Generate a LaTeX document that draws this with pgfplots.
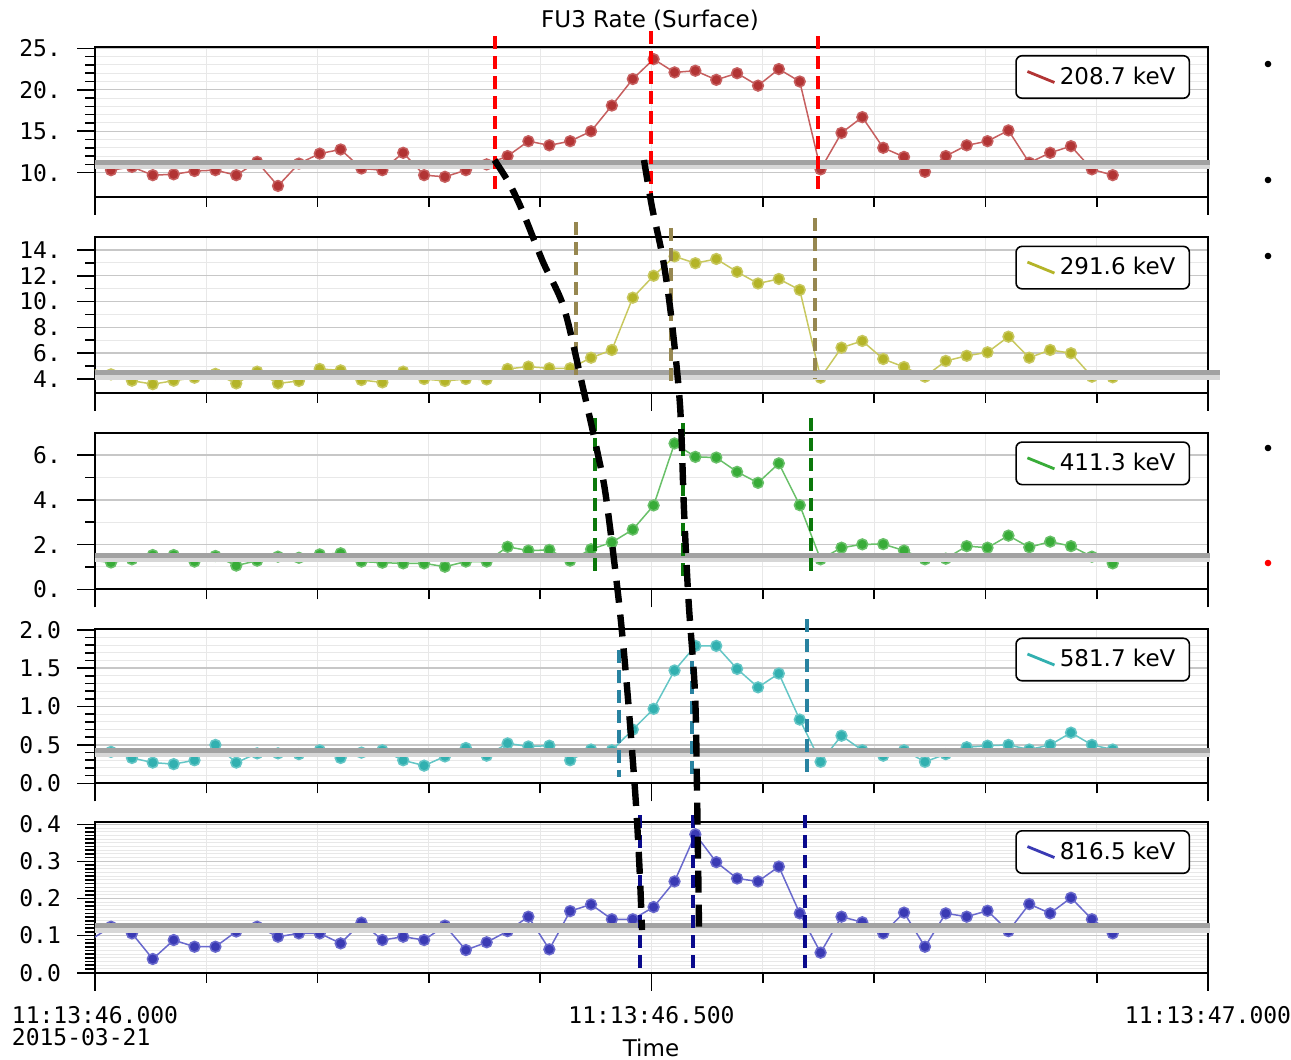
\documentclass[border=0pt]{standalone}
\usepackage{fontspec}
\setmainfont{DejaVu Sans}
\newfontfamily\tickfont{DejaVu Sans Mono}
\usepackage{pgfplots}
\usepackage{pgfplotstable}
\pgfplotsset{compat=1.18}

\definecolor{redM}{RGB}{178,52,52}
\definecolor{redL}{RGB}{198,95,95}
\definecolor{yelM}{RGB}{180,180,40}
\definecolor{yelL}{RGB}{200,200,95}
\definecolor{grnM}{RGB}{56,172,56}
\definecolor{grnL}{RGB}{105,192,105}
\definecolor{cyaM}{RGB}{50,176,176}
\definecolor{cyaL}{RGB}{100,198,198}
\definecolor{bluM}{RGB}{58,58,180}
\definecolor{bluL}{RGB}{105,105,205}
\definecolor{dRed}{RGB}{255,0,0}
\definecolor{dOli}{RGB}{150,135,80}
\definecolor{dGrn}{RGB}{10,120,10}
\definecolor{dTea}{RGB}{40,130,160}
\definecolor{dNav}{RGB}{10,10,140}
\definecolor{baseC}{RGB}{162,162,162}
\definecolor{baseS}{RGB}{215,215,215}

% time offset from 11:13:46.000 (s); r: 208.7 keV, y: 291.6 keV, g: 411.3 keV, c: 581.7 keV, b: 816.5 keV
\pgfplotstableread{
t       r     y     g     c     b
-0.0044 11.3  4.80  1.31  0.35  0.088
0.0144  10.3  4.36  1.20  0.41  0.124
0.0332  10.7  3.87  1.34  0.33  0.106
0.0519  9.7   3.60  1.53  0.27  0.037
0.0707  9.8   3.87  1.53  0.25  0.088
0.0894  10.2  4.10  1.24  0.30  0.070
0.1082  10.3  4.40  1.49  0.50  0.070
0.1269  9.7   3.66  1.06  0.27  0.111
0.1457  11.3  4.57  1.28  0.39  0.124
0.1644  8.4   3.66  1.46  0.39  0.097
0.1832  11.1  3.85  1.41  0.38  0.106
0.2019  12.3  4.78  1.56  0.43  0.106
0.2207  12.8  4.67  1.61  0.33  0.079
0.2394  10.5  3.92  1.24  0.40  0.135
0.2582  10.3  3.74  1.19  0.43  0.088
0.2769  12.4  4.57  1.16  0.30  0.097
0.2957  9.7   4.00  1.16  0.23  0.088
0.3144  9.5   3.85  1.01  0.35  0.127
0.3332  10.3  4.00  1.24  0.46  0.061
0.3519  11.0  3.97  1.24  0.36  0.082
0.3707  12.0  4.78  1.90  0.52  0.112
0.3894  13.8  4.96  1.73  0.48  0.151
0.4082  13.3  4.83  1.76  0.49  0.063
0.4269  13.8  4.83  1.28  0.30  0.166
0.4457  15.0  5.65  1.79  0.44  0.184
0.4644  18.1  6.25  2.10  0.43  0.144
0.4832  21.3  10.3  2.67  0.70  0.144
0.5019  23.7  12.0  3.75  0.97  0.177
0.5207  22.1  13.5  6.52  1.47  0.246
0.5394  22.3  12.97 5.92  1.79  0.373
0.5582  21.2  13.3  5.89  1.79  0.298
0.5769  22.0  12.3  5.25  1.49  0.254
0.5957  20.5  11.4  4.76  1.25  0.246
0.6144  22.5  11.75 5.63  1.43  0.286
0.6332  21.0  10.9  3.76  0.83  0.160
0.6519  10.4  4.10  1.34  0.28  0.054
0.6707  14.8  6.43  1.86  0.62  0.151
0.6894  16.7  6.95  2.01  0.43  0.136
0.7082  13.0  5.55  2.02  0.36  0.106
0.7269  11.9  4.93  1.73  0.43  0.162
0.7457  10.1  4.18  1.34  0.28  0.070
0.7644  12.0  5.40  1.37  0.38  0.160
0.7832  13.3  5.80  1.93  0.47  0.151
0.8019  13.8  6.07  1.86  0.49  0.167
0.8207  15.1  7.28  2.40  0.50  0.112
0.8394  11.2  5.65  1.88  0.44  0.185
0.8582  12.4  6.25  2.13  0.50  0.160
0.8769  13.2  6.00  1.93  0.66  0.202
0.8957  10.4  4.18  1.46  0.50  0.144
0.9144  9.7   4.13  1.16  0.44  0.106
}\data

\tikzset{
 vd/.style={dash pattern=on 6.5pt off 3.5pt, line width=2pt},
 bsh/.style={line width=3pt, color=baseS, transform canvas={yshift=-2pt}},
 bln/.style={line width=2.6pt, color=baseC},
}
\pgfplotsset{
 panel/.style={
  anchor=north west, scale only axis, width=556.5pt,
  xmin=0, xmax=1,
  xtick={0,0.5,1}, xticklabels={},
  minor xtick={0.1,0.2,0.3,0.4,0.5,0.6,0.7,0.8,0.9},
  xminorgrids=true, yminorgrids=true, ymajorgrids=true,
  tick align=outside, tick pos=left,
  major tick length=9pt, minor tick length=5pt,
  tick style={black, line width=0.8pt},
  axis line style={line width=1pt},
  major grid style={line width=0.7pt, color=black!22},
  minor grid style={line width=0.5pt, color=black!9},
  ticklabel style={font=\tickfont\fontsize{11.5}{11}\selectfont},
  yticklabel style={xshift=-4.5pt},
  xticklabel style={yshift=-4.5pt},
  clip mode=individual,
  legend style={at={(0.984,0.945)}, anchor=north east, draw=black, line width=0.8pt,
    rounded corners=3pt, fill=white, font=\fontsize{11.5}{13}\selectfont,
    inner xsep=5pt, inner ysep=3.5pt},
  legend cell align=left,
 },
 ser/.style 2 args={color=#2, line width=0.75pt, mark=*, mark size=2.7pt,
   mark options={draw=none, fill=#1}},
 legimg/.style 2 args={legend image code/.code={
   \draw[#1, line width=1.4pt, sharp corners] (0pt,2.75pt) -- (13.5pt,-2.75pt);}},
}

\begin{document}
\begin{tikzpicture}
\path[use as bounding box] (0,0) rectangle (645.5pt,-530pt);

% ---- panel 1 ----
\begin{axis}[panel, at={(47.5pt,-23.35pt)}, height=75pt,
  ymin=7.1, ymax=25.2, ytick={10,15,20,25}, yticklabels={10.,15.,20.,25.},
  minor y tick num=4, legimg={redM}{redL}]
\addplot[ser={redM}{redL}] table[x=t,y=r]{\data};
\addlegendentry{208.7 keV}
\draw[bsh] (axis cs:0,11.25) -- (axis cs:1.002,11.25);
\draw[bln] (axis cs:0,11.25) -- (axis cs:1.002,11.25);
\draw[vd, dRed] (axis cs:0.359,26.49) -- (axis cs:0.359,7.31);
\draw[vd, dRed] (axis cs:0.4995,27.1) -- (axis cs:0.4995,7.31);
\draw[vd, dRed] (axis cs:0.6496,26.49) -- (axis cs:0.6496,7.31);
\end{axis}

% ---- panel 2 ----
\begin{axis}[panel, at={(47.5pt,-118.5pt)}, height=77.85pt,
  ymin=2.94, ymax=15.0, ytick={4,6,8,10,12,14}, yticklabels={4.,6.,8.,10.,12.,14.},
  minor y tick num=1, legimg={yelM}{yelL}]
\addplot[ser={yelM}{yelL}] table[x=t,y=y]{\data};
\addlegendentry{291.6 keV}
\draw[bsh] (axis cs:0,4.49) -- (axis cs:1.011,4.49);
\draw[bln] (axis cs:0,4.49) -- (axis cs:1.011,4.49);
\draw[vd, dOli] (axis cs:0.432,16.16) -- (axis cs:0.432,4.3);
\draw[vd, dOli] (axis cs:0.5175,15.7) -- (axis cs:0.5175,3.4);
\draw[vd, dOli] (axis cs:0.647,16.47) -- (axis cs:0.647,4.07);
\end{axis}

% ---- panel 3 ----
\begin{axis}[panel, at={(47.5pt,-216.35pt)}, height=78.3pt,
  ymin=0, ymax=7, ytick={0,2,4,6}, yticklabels={0.,2.,4.,6.},
  minor y tick num=1, legimg={grnM}{grnL}]
\addplot[ser={grnM}{grnL}] table[x=t,y=g]{\data};
\addlegendentry{411.3 keV}
\draw[bsh] (axis cs:0,1.52) -- (axis cs:1.002,1.52);
\draw[bln] (axis cs:0,1.52) -- (axis cs:1.002,1.52);
\draw[vd, dGrn] (axis cs:0.449,7.66) -- (axis cs:0.449,0.55);
\draw[vd, dGrn] (axis cs:0.528,7.43) -- (axis cs:0.528,0.34);
\draw[vd, dGrn] (axis cs:0.6436,7.66) -- (axis cs:0.6436,0.55);
\end{axis}

% ---- panel 4 ----
\begin{axis}[panel, at={(47.5pt,-314.5pt)}, height=77.15pt,
  ymin=0, ymax=2.01, ytick={0,0.5,1,1.5,2}, yticklabels={0.0,0.5,1.0,1.5,2.0},
  minor y tick num=4, legimg={cyaM}{cyaL}]
\addplot[ser={cyaM}{cyaL}] table[x=t,y=c]{\data};
\addlegendentry{581.7 keV}
\draw[bsh] (axis cs:0,0.43) -- (axis cs:1.002,0.43);
\draw[bln] (axis cs:0,0.43) -- (axis cs:1.002,0.43);
\draw[vd, dTea] (axis cs:0.471,1.74) -- (axis cs:0.471,0.087);
\draw[vd, dTea] (axis cs:0.536,1.85) -- (axis cs:0.536,0.087);
\draw[vd, dTea] (axis cs:0.640,2.136) -- (axis cs:0.640,0.087);
\end{axis}

% ---- panel 5 ----
\begin{axis}[panel, at={(47.5pt,-410.85pt)}, height=75.5pt,
  ymin=0, ymax=0.407, ytick={0,0.1,0.2,0.3,0.4}, yticklabels={0.0,0.1,0.2,0.3,0.4},
  minor y tick num=9, legimg={bluM}{bluL},
  xticklabels={{11:13:46.000\\2015-03-21},{11:13:46.500},{11:13:47.000}},
  xticklabel style={align=left}]
\addplot[ser={bluM}{bluL}] table[x=t,y=b]{\data};
\addlegendentry{816.5 keV}
\draw[bsh] (axis cs:0,0.127) -- (axis cs:1.002,0.127);
\draw[bln] (axis cs:0,0.127) -- (axis cs:1.002,0.127);
\draw[vd, dNav] (axis cs:0.4894,0.425) -- (axis cs:0.4894,0);
\draw[vd, dNav] (axis cs:0.537,0.425) -- (axis cs:0.537,0);
\draw[vd, dNav] (axis cs:0.638,0.425) -- (axis cs:0.638,0);
\end{axis}

% ---- annotations (pixel units) ----
\begin{scope}[x=0.5pt, y=-0.5pt]
\node[font=\fontsize{11.5}{13}\selectfont] at (650,20) {FU3 Rate (Surface)};
\node[font=\fontsize{11.5}{13}\selectfont] at (651,1048) {Time};
\draw[black, line width=3.2pt, dash pattern=on 11pt off 6pt] plot[smooth, tension=0.5] coordinates {
 (494.5,160) (509,183) (522,210) (543,262) (564,308) (583,388) (597.6,453) (606,497)
 (618.7,600) (627,687) (635.5,797) (639.7,872) (642,930)};
\draw[black, line width=3.2pt, dash pattern=on 11pt off 6pt] plot[smooth, tension=0.5] coordinates {
 (644,160) (652,207) (662.8,258) (671,315) (680,405) (684,510) (688.5,600) (695,693)
 (697,790) (699,927)};
\fill[black] (1268,64) circle (3.3);
\fill[black] (1268,180) circle (3.3);
\fill[black] (1268,256) circle (3.3);
\fill[black] (1268,448) circle (3.3);
\fill[red] (1268,563) circle (3.3);
\end{scope}
\end{tikzpicture}
\end{document}
